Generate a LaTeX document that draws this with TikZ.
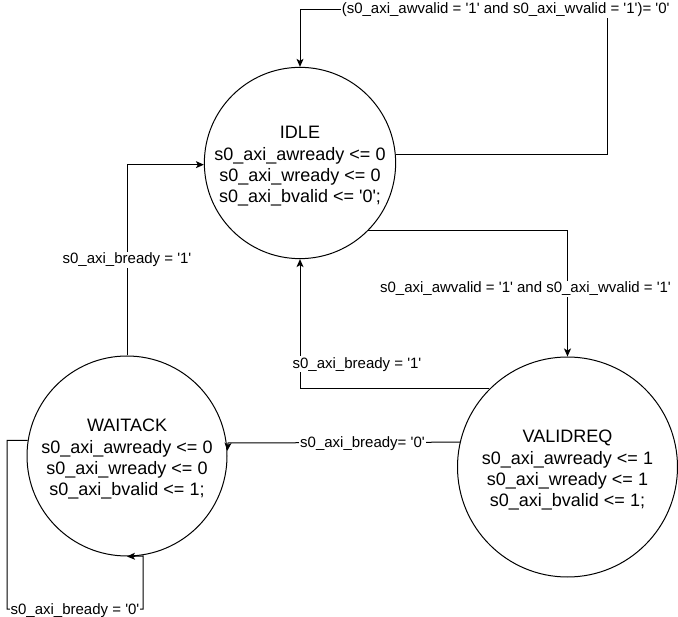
\documentclass[tikz,border=0pt]{standalone}
\usepackage{fontspec}
\newfontfamily\diafont{Liberation Sans}
\usetikzlibrary{arrows.meta}

\begin{document}
\begin{tikzpicture}[x=1pt,y=-1pt,
	state/.style={draw,circle,line width=1pt,inner sep=0pt,align=center,
		font=\diafont\fontsize{18}{21.3}\selectfont},
	link/.style={line width=1pt,-{Stealth[length=8pt,width=7pt,inset=2pt]}},
	lbl/.style={fill=white,inner sep=1pt,yshift=-1.5pt,font=\diafont\fontsize{15}{18}\selectfont}]
		\useasboundingbox (0,0) rectangle (678,617);
		\node[state,minimum size=189pt] (IDLE) at (300,163) {\rule{0pt}{19pt}IDLE\\s0\_axi\_awready <= 0\\s0\_axi\_wready <= 0\\s0\_axi\_bvalid <= '0';};
		\node[state,minimum size=220pt] (VALIDREQ) at (567.5,467) {\rule{0pt}{19pt}VALIDREQ\\s0\_axi\_awready <= 1\\s0\_axi\_wready <= 1\\s0\_axi\_bvalid <= 1;};
		\node[state,minimum size=200pt] (WAITACK) at (127,456) {\rule{0pt}{19pt}WAITACK\\s0\_axi\_awready <= 0\\s0\_axi\_wready <= 0\\s0\_axi\_bvalid <= 1;};
		
		\draw[link] (IDLE.5) -| (607,10) -- node[lbl,pos=0.33,yshift=1.5pt] {(s0\_axi\_awvalid = '1' and s0\_axi\_wvalid = '1')= '0'} (300,10) -- (IDLE.north);
		\draw[link] (IDLE.-45) -| node[lbl,pos=0.725,xshift=-42pt] {s0\_axi\_awvalid = '1' and s0\_axi\_wvalid = '1'} (VALIDREQ.north);
		\draw[link] (VALIDREQ.135) -| node[lbl,pos=0.6,xshift=57pt] {s0\_axi\_bready = '1'} (IDLE.south);
		\draw[link] (WAITACK.north) |- node[lbl,pos=0.255] {s0\_axi\_bready = '1'} (IDLE.181);
		\draw[link] (VALIDREQ.167) -- node[lbl,pos=0.42] {s0\_axi\_bready= '0'} (228,443) -- (WAITACK.3);
		\draw[link] (WAITACK.171) -| (7,609) -- node[lbl] {s0\_axi\_bready = '0'} (143,609) -- (143,556) -- (WAITACK.south);
		\end{tikzpicture}
\end{document}
